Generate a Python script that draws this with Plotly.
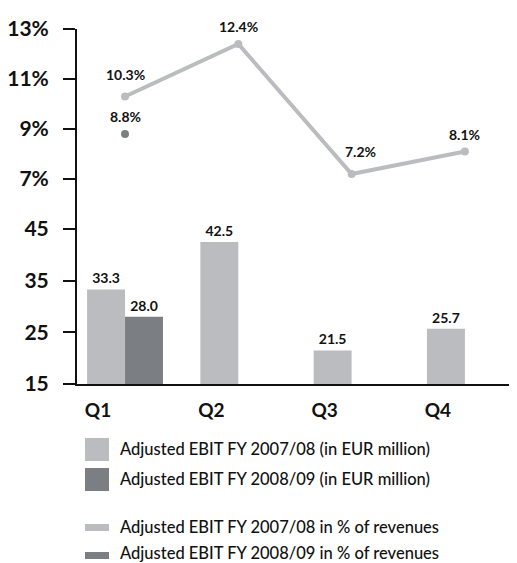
import plotly.graph_objects as go

quarters = ["Q1", "Q2", "Q3", "Q4"]
ebit_0708 = [33.3, 42.5, 21.5, 25.7]
ebit_0809 = [28.0, None, None, None]
pct_0708 = [10.3, 12.4, 7.2, 8.1]
pct_0809 = [8.8, None, None, None]
bar_ticks = [15, 25, 35, 45]
pct_ticks = [7, 9, 11, 13]
legend_names = [
    "Adjusted EBIT FY 2007/08 (in EUR million)",
    "Adjusted EBIT FY 2008/09 (in EUR million)",
    "Adjusted EBIT FY 2007/08 in % of revenues",
    "Adjusted EBIT FY 2008/09 in % of revenues",
]

LIGHT = "#BBBCC0"
DARK = "#7B7F83"
FONT = "Lato"

OFF = 8  # page offset of the figure inside the browser body
W, H = 517 - OFF, 563 - OFF
ML, MR, MT, MB = 77 - OFF, 0, 29 - OFF, 563 - 384
PH = H - MT - MB
split = 180 / PH

fig = go.Figure()
fig.add_trace(go.Bar(x=quarters, y=ebit_0708, marker_color=LIGHT, marker_line_width=0,
                     text=[f"{v:.1f}" for v in ebit_0708], textposition="outside",
                     textfont=dict(family=FONT, size=14, color="#111", weight=700),
                     cliponaxis=False, name=legend_names[0], yaxis="y"))
fig.add_trace(go.Bar(x=quarters, y=ebit_0809, marker_color=DARK, marker_line_width=0,
                     text=[f"{v:.1f}" if v is not None else "" for v in ebit_0809],
                     textposition="outside",
                     textfont=dict(family=FONT, size=14, color="#111", weight=700),
                     cliponaxis=False, name=legend_names[1], yaxis="y"))
fig.add_trace(go.Scatter(x=quarters, y=pct_0708, mode="lines+markers",
                         line=dict(color=LIGHT, width=4), marker=dict(color=LIGHT, size=8),
                         name=legend_names[2], yaxis="y2", cliponaxis=False))
fig.add_trace(go.Scatter(x=quarters, y=pct_0809, mode="markers",
                         marker=dict(color=DARK, size=8),
                         name=legend_names[3], yaxis="y2", cliponaxis=False))

label_font = dict(family=FONT, size=14, color="#111", weight=700)
label_shift = {("a", 0): (0, 12), ("a", 2): (9, 12)}
annotations = []
for i, (q, v) in enumerate(zip(quarters, pct_0708)):
    xs, ys = label_shift.get(("a", i), (0, 7))
    annotations.append(dict(x=q, y=v, xref="x", yref="y2", text=f"{v:.1f}%", showarrow=False,
                            yanchor="bottom", yshift=ys, xshift=xs, font=label_font))
for q, v in zip(quarters, pct_0809):
    if v is not None:
        annotations.append(dict(x=q, y=v, xref="x", yref="y2", text=f"{v:.1f}%", showarrow=False,
                                yanchor="bottom", yshift=7, font=label_font))

def px_x(x):
    return (x - OFF - ML) / (W - ML - MR)

def px_y(y):
    return (H - MB - (y - OFF)) / PH

shapes = []
legend_items = [
    (LIGHT, 438, 461, 449),
    (DARK, 468, 491, 479),
    (LIGHT, 524, 531, 527),
    (DARK, 552, 559, 553),
]
for (col, y0, y1, ty), name in zip(legend_items, legend_names):
    shapes.append(dict(type="rect", xref="paper", yref="paper",
                       x0=px_x(85), x1=px_x(109), y0=px_y(y1), y1=px_y(y0),
                       fillcolor=col, line_width=0))
    annotations.append(dict(xref="paper", yref="paper", x=px_x(118), y=px_y(ty),
                            text=name, showarrow=False, xanchor="left", yanchor="middle",
                            font=dict(family=FONT, size=16.5, color="#111", weight=500)))

fig.update_layout(
    width=W, height=H, margin=dict(l=ML, r=MR, t=MT, b=MB),
    paper_bgcolor="white", plot_bgcolor="white", showlegend=False,
    barmode="group", bargap=0.33, bargroupgap=0,
    font=dict(family=FONT, color="#111"),
    xaxis=dict(range=[-0.424, 3.46], showgrid=False, zeroline=False, showline=True,
               linecolor="#111", linewidth=2, ticks="", ticklabelshift=-27,
               ticklabelstandoff=8, tickfont=dict(family=FONT, size=19, color="#111", weight=700)),
    yaxis=dict(domain=[0, split], range=[15, 15 + 180 / (155 / 30)], tickvals=bar_ticks,
               showgrid=False, zeroline=False, showline=True, linecolor="#111", linewidth=2,
               ticks="outside", ticklen=12, tickwidth=2, tickcolor="#111",
               ticklabelstandoff=10,
               tickfont=dict(family=FONT, size=21, color="#111", weight=700)),
    yaxis2=dict(domain=[split, 1], range=[6, 13], tickvals=pct_ticks,
                ticktext=[f"{t}%" for t in pct_ticks], anchor="x",
                showgrid=False, zeroline=False, showline=True, linecolor="#111", linewidth=2,
                ticks="outside", ticklen=12, tickwidth=2, tickcolor="#111",
                ticklabelstandoff=10,
                tickfont=dict(family=FONT, size=21, color="#111", weight=700)),
    annotations=annotations, shapes=shapes,
)

fig.write_html("out.html")
